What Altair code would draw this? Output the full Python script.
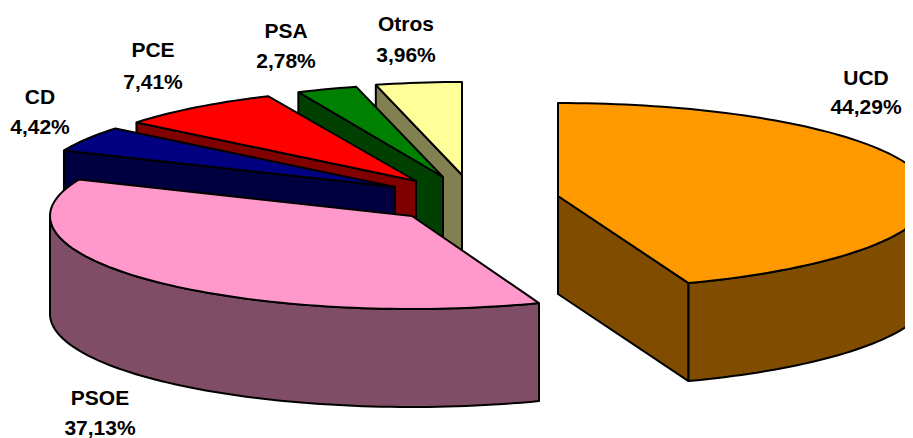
import math
import altair as alt
import pandas as pd

# Chart values (drawn clockwise from 12 o'clock)
parties = ["UCD", "PSOE", "CD", "PCE", "PSA", "Otros"]
shares = [44.29, 37.13, 4.42, 7.41, 2.78, 3.96]
share_labels = ["44,29%", "37,13%", "4,42%", "7,41%", "2,78%", "3,96%"]
top_colors = ["#FF9900", "#FF99CC", "#000080", "#FF0000", "#008000", "#FFFF99"]
side_colors = ["#804D00", "#804D66", "#000040", "#800000", "#004000", "#808050"]

# Where each exploded slice's hub sits, and the ellipse it is drawn on
hub_x = [558, 412, 395, 416, 443, 462]
hub_y = [196, 216, 187, 181, 177, 175]
radius_x = [372, 362, 360, 360, 352, 350]
radius_y = 93
depth = 98

# Label anchors
label_x = [866, 100, 40, 153, 286, 406]
name_y = [79, 399, 98, 51, 32, 25]
pct_y = [108, 429, 128, 83, 62, 56]

# Slices painted from the back to the front
draw_order = ["Otros", "PSA", "PCE", "CD", "PSOE", "UCD"]

STEP = 1.5


def rim(i, a, b):
    n = max(2, int(abs(b - a) / STEP) + 1)
    out = []
    for k in range(n + 1):
        t = math.radians(a + (b - a) * k / n)
        out.append((hub_x[i] + radius_x[i] * math.sin(t), hub_y[i] - radius_y * math.cos(t)))
    return out


starts = {}
acc = 0.0
for i, p in enumerate(parties):
    d = shares[i] / sum(shares) * 360
    starts[p] = (acc, acc + d)
    acc += d

rows = []
pid = 0


def add(points, color):
    global pid
    pts = list(points) + [points[0]]
    for s, (x, y) in enumerate(pts):
        rows.append({"poly": pid, "seq": s, "x": x, "y": y, "fill": color})
    pid += 1


for p in draw_order:
    i = parties.index(p)
    a, b = starts[p]
    hub = (hub_x[i], hub_y[i])
    arc = rim(i, a, b)
    if p in ("Otros", "PSA", "PCE", "CD"):
        e = arc[0]
        add([e, hub, (hub[0], hub[1] + depth), (e[0], e[1] + depth)], side_colors[i])
    elif p == "UCD":
        e = arc[-1]
        add([hub, e, (e[0], e[1] + depth), (hub[0], hub[1] + depth)], side_colors[i])
        front = rim(i, 80, b)
        add(front + [(x, y + depth) for x, y in reversed(front)], side_colors[i])
    elif p == "PSOE":
        front = rim(i, a, 270)
        add(front + [(x, y + depth) for x, y in reversed(front)], side_colors[i])
    add([hub] + arc, top_colors[i])

shapes = pd.DataFrame(rows)

labels = pd.DataFrame(
    [{"x": label_x[i], "y": name_y[i], "t": parties[i]} for i in range(len(parties))]
    + [{"x": label_x[i], "y": pct_y[i], "t": share_labels[i]} for i in range(len(parties))]
)

xs = alt.X("x:Q", axis=None, scale=alt.Scale(domain=[8, 905], nice=False, zero=False))
ys = alt.Y("y:Q", axis=None, scale=alt.Scale(domain=[438, 8], nice=False, zero=False))

pie = (
    alt.Chart(shapes)
    .mark_line(clip=True, stroke="black", strokeWidth=2, strokeJoin="round")
    .encode(
        x=xs,
        y=ys,
        order="seq:Q",
        detail="poly:N",
        fill=alt.Fill("fill:N", scale=None, legend=None),
    )
)

text = (
    alt.Chart(labels)
    .mark_text(font="Liberation Sans", fontWeight="bold", fontSize=21, color="black", baseline="middle", align="center")
    .encode(x=xs, y=ys, text="t:N")
)

chart = (
    alt.layer(pie, text)
    .properties(width=897, height=430, padding=0, autosize=alt.AutoSizeParams(type="none"))
    .configure_view(stroke=None)
)

chart.save("out.html", embed_options={"renderer": "svg", "actions": False})
